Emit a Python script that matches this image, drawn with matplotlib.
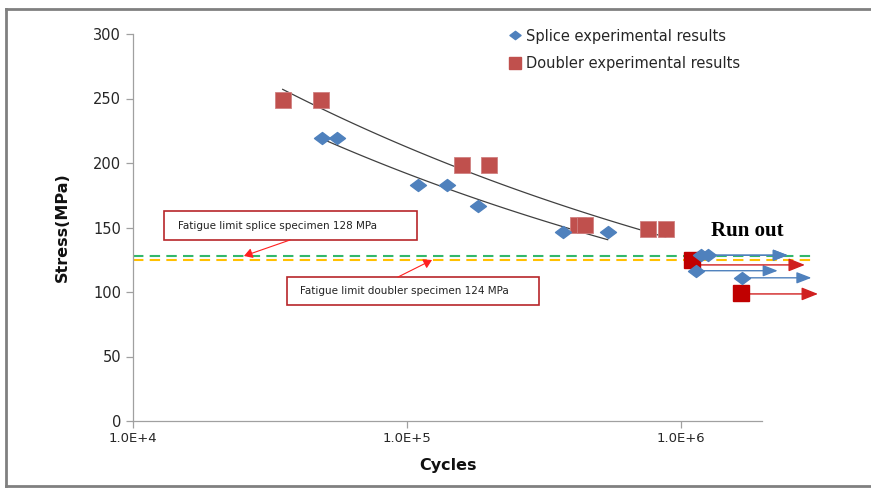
import numpy as np
import matplotlib
matplotlib.use("Agg")
import matplotlib.pyplot as plt
from matplotlib.path import Path
from matplotlib.lines import Line2D
from matplotlib.patches import Rectangle, FancyArrowPatch

# ---- data ----
splice_cycles = [49000, 55600, 109700, 140000, 181500, 370600, 541000]
splice_stress = [219.5, 219.5, 183, 183, 167, 146.5, 146.5]
doubler_cycles = [35200, 48500, 158700, 199000, 420700, 446000, 758000, 881000]
doubler_stress = [249, 249, 198.5, 198.5, 152, 152, 149, 149]

splice_runout_cycles = [1190000, 1260000, 1135000, 1680000]
splice_runout_stress = [128.5, 128.5, 116.5, 111]
splice_runout_arrow_end = [2460000, 2460000, 2260000, 3000000]
doubler_runout_cycles = [1097000, 1656000]
doubler_runout_stress = [124.5, 99]
doubler_runout_arrow_y = [121, 98.5]
doubler_runout_arrow_end = [2840000, 3170000]

fatigue_splice = 128
fatigue_doubler = 124.5
yticks = [0, 50, 100, 150, 200, 250, 300]
xticks = [1e4, 1e5, 1e6]
xticklabels = ["1.0E+4", "1.0E+5", "1.0E+6"]

blue = "#4F81BD"
red = "#C0504D"
dark_red = "#C00000"

fig = plt.figure(figsize=(8.71, 4.88), dpi=100)
ax = fig.add_axes([133 / 871, 1 - 421 / 488, (762 - 133) / 871, (421 - 34) / 488])

ax.set_xscale("log")
ax.set_xlim(1e4, 1.98e6)
ax.set_ylim(0, 300)

# fatigue limit lines (extending beyond axes)
xr = [1e4, 3.08e6]
ax.plot(xr, [fatigue_splice] * 2, ls=(0, (5, 3)), color="#33B86B", lw=1.5, clip_on=False, zorder=2)
ax.plot(xr, [fatigue_doubler] * 2, ls=(0, (5, 3)), color="#FFC000", lw=1.5, clip_on=False, zorder=2)

# power trendlines (Excel-like)
def power_fit(x, y):
    b, lna = np.polyfit(np.log(x), np.log(y), 1)
    xs = np.logspace(np.log10(min(x)), np.log10(max(x)), 100)
    return xs, np.exp(lna) * xs ** b

xs, ys = power_fit(doubler_cycles, doubler_stress)
ax.plot(xs, ys, color="#404040", lw=0.9, zorder=3)
xs, ys = power_fit(splice_cycles, splice_stress)
ax.plot(xs, ys, color="#404040", lw=0.9, zorder=3)

diamond = Path([(-1, 0), (0, 0.75), (1, 0), (0, -0.75), (-1, 0)],
               [Path.MOVETO, Path.LINETO, Path.LINETO, Path.LINETO, Path.CLOSEPOLY])

# runout arrows
for x0, y0, x1 in zip(splice_runout_cycles, splice_runout_stress, splice_runout_arrow_end):
    ax.annotate("", xy=(x1, y0), xytext=(x0, y0), annotation_clip=False,
                arrowprops=dict(arrowstyle="-|>,head_length=0.9,head_width=0.35",
                                color=blue, lw=1.0, shrinkA=0, shrinkB=0), zorder=4)
for x0, y0, x1 in zip(doubler_runout_cycles, doubler_runout_arrow_y, doubler_runout_arrow_end):
    ax.annotate("", xy=(x1, y0), xytext=(x0, y0), annotation_clip=False,
                arrowprops=dict(arrowstyle="-|>,head_length=1.0,head_width=0.4",
                                color="#D02020", lw=1.0, shrinkA=0, shrinkB=0), zorder=4)

ax.plot(doubler_cycles, doubler_stress, ls="none", marker="s", ms=11, color=red,
        mec="#D08080", mew=0.6, zorder=5)
ax.plot(splice_cycles, splice_stress, ls="none", marker=diamond, ms=11.5, color=blue,
        mec=blue, zorder=6)
ax.plot(doubler_runout_cycles, doubler_runout_stress, ls="none", marker="s", ms=11,
        color=dark_red, mec=dark_red, zorder=5, clip_on=False)
ax.plot(splice_runout_cycles, splice_runout_stress, ls="none", marker=diamond, ms=11.5,
        color=blue, mec=blue, zorder=6, clip_on=False)

# axes styling
for s in ["top", "right"]:
    ax.spines[s].set_visible(False)
for s in ["left", "bottom"]:
    ax.spines[s].set_color("#A0A0A0")
    ax.spines[s].set_linewidth(0.9)
ax.set_yticks(yticks)
ax.set_xticks(xticks)
ax.set_xticklabels(xticklabels)
ax.xaxis.set_minor_locator(matplotlib.ticker.NullLocator())
ax.tick_params(axis="both", colors="#A0A0A0", labelcolor="#262626", labelsize=10.5, length=5, width=0.9)
ax.tick_params(axis="x", pad=3, labelsize=9.5)
ax.set_ylabel("Stress(MPa)", fontsize=11.5, fontweight="bold", color="#111111", labelpad=17)
ax.set_xlabel("Cycles", fontsize=11.5, fontweight="bold", color="#111111", labelpad=9)

# legend
handles = [Line2D([], [], ls="none", marker=diamond, ms=8, color=blue),
           Line2D([], [], ls="none", marker="s", ms=9, color=red)]
ax.legend(handles, ["Splice experimental results", "Doubler experimental results"],
          loc="upper left", bbox_to_anchor=(0.58, 1.048), frameon=False, fontsize=10.5,
          handlelength=0.6, handletextpad=0.4, labelspacing=0.85, labelcolor="#262626")

# annotation boxes
fig.text(178 / 871, 1 - 226 / 488, "Fatigue limit splice specimen 128 MPa",
         fontsize=7.5, va="center", ha="left", color="#222222")
fig.text(300 / 871, 1 - 291 / 488, "Fatigue limit doubler specimen 124 MPa",
         fontsize=7.5, va="center", ha="left", color="#222222")
fig.add_artist(Rectangle((164 / 871, 1 - 240 / 488), (417 - 164) / 871, 29 / 488,
                         transform=fig.transFigure, fill=False, ec="#B8262A", lw=1.2))
fig.add_artist(Rectangle((287 / 871, 1 - 305 / 488), (539 - 287) / 871, 28 / 488,
                         transform=fig.transFigure, fill=False, ec="#B8262A", lw=1.2))
fig.add_artist(FancyArrowPatch(
    (290 / 871, 1 - 240 / 488), (244 / 871, 1 - 256 / 488), transform=fig.transFigure,
    arrowstyle="-|>,head_length=5,head_width=3", color="#FF2020", lw=0.8, shrinkA=0, shrinkB=0))
fig.add_artist(FancyArrowPatch(
    (398 / 871, 1 - 277 / 488), (432 / 871, 1 - 260 / 488), transform=fig.transFigure,
    arrowstyle="-|>,head_length=5,head_width=3", color="#FF2020", lw=0.8, shrinkA=0, shrinkB=0))

fig.text(747 / 871, 1 - 231 / 488, "Run out", fontsize=15, fontweight="bold",
         family="Liberation Serif", ha="center", va="center", color="black")

# figure border
fig.add_artist(Line2D([6 / 871, 6 / 871], [1 - 9 / 488, 1 - 486 / 488], transform=fig.transFigure,
                      color="#808080", lw=2))
fig.add_artist(Line2D([6 / 871, 1], [1 - 9 / 488, 1 - 9 / 488], transform=fig.transFigure,
                      color="#808080", lw=2))
fig.add_artist(Line2D([6 / 871, 1], [1 - 486 / 488, 1 - 486 / 488], transform=fig.transFigure,
                      color="#808080", lw=2))

fig.savefig("out.png", dpi=100)
